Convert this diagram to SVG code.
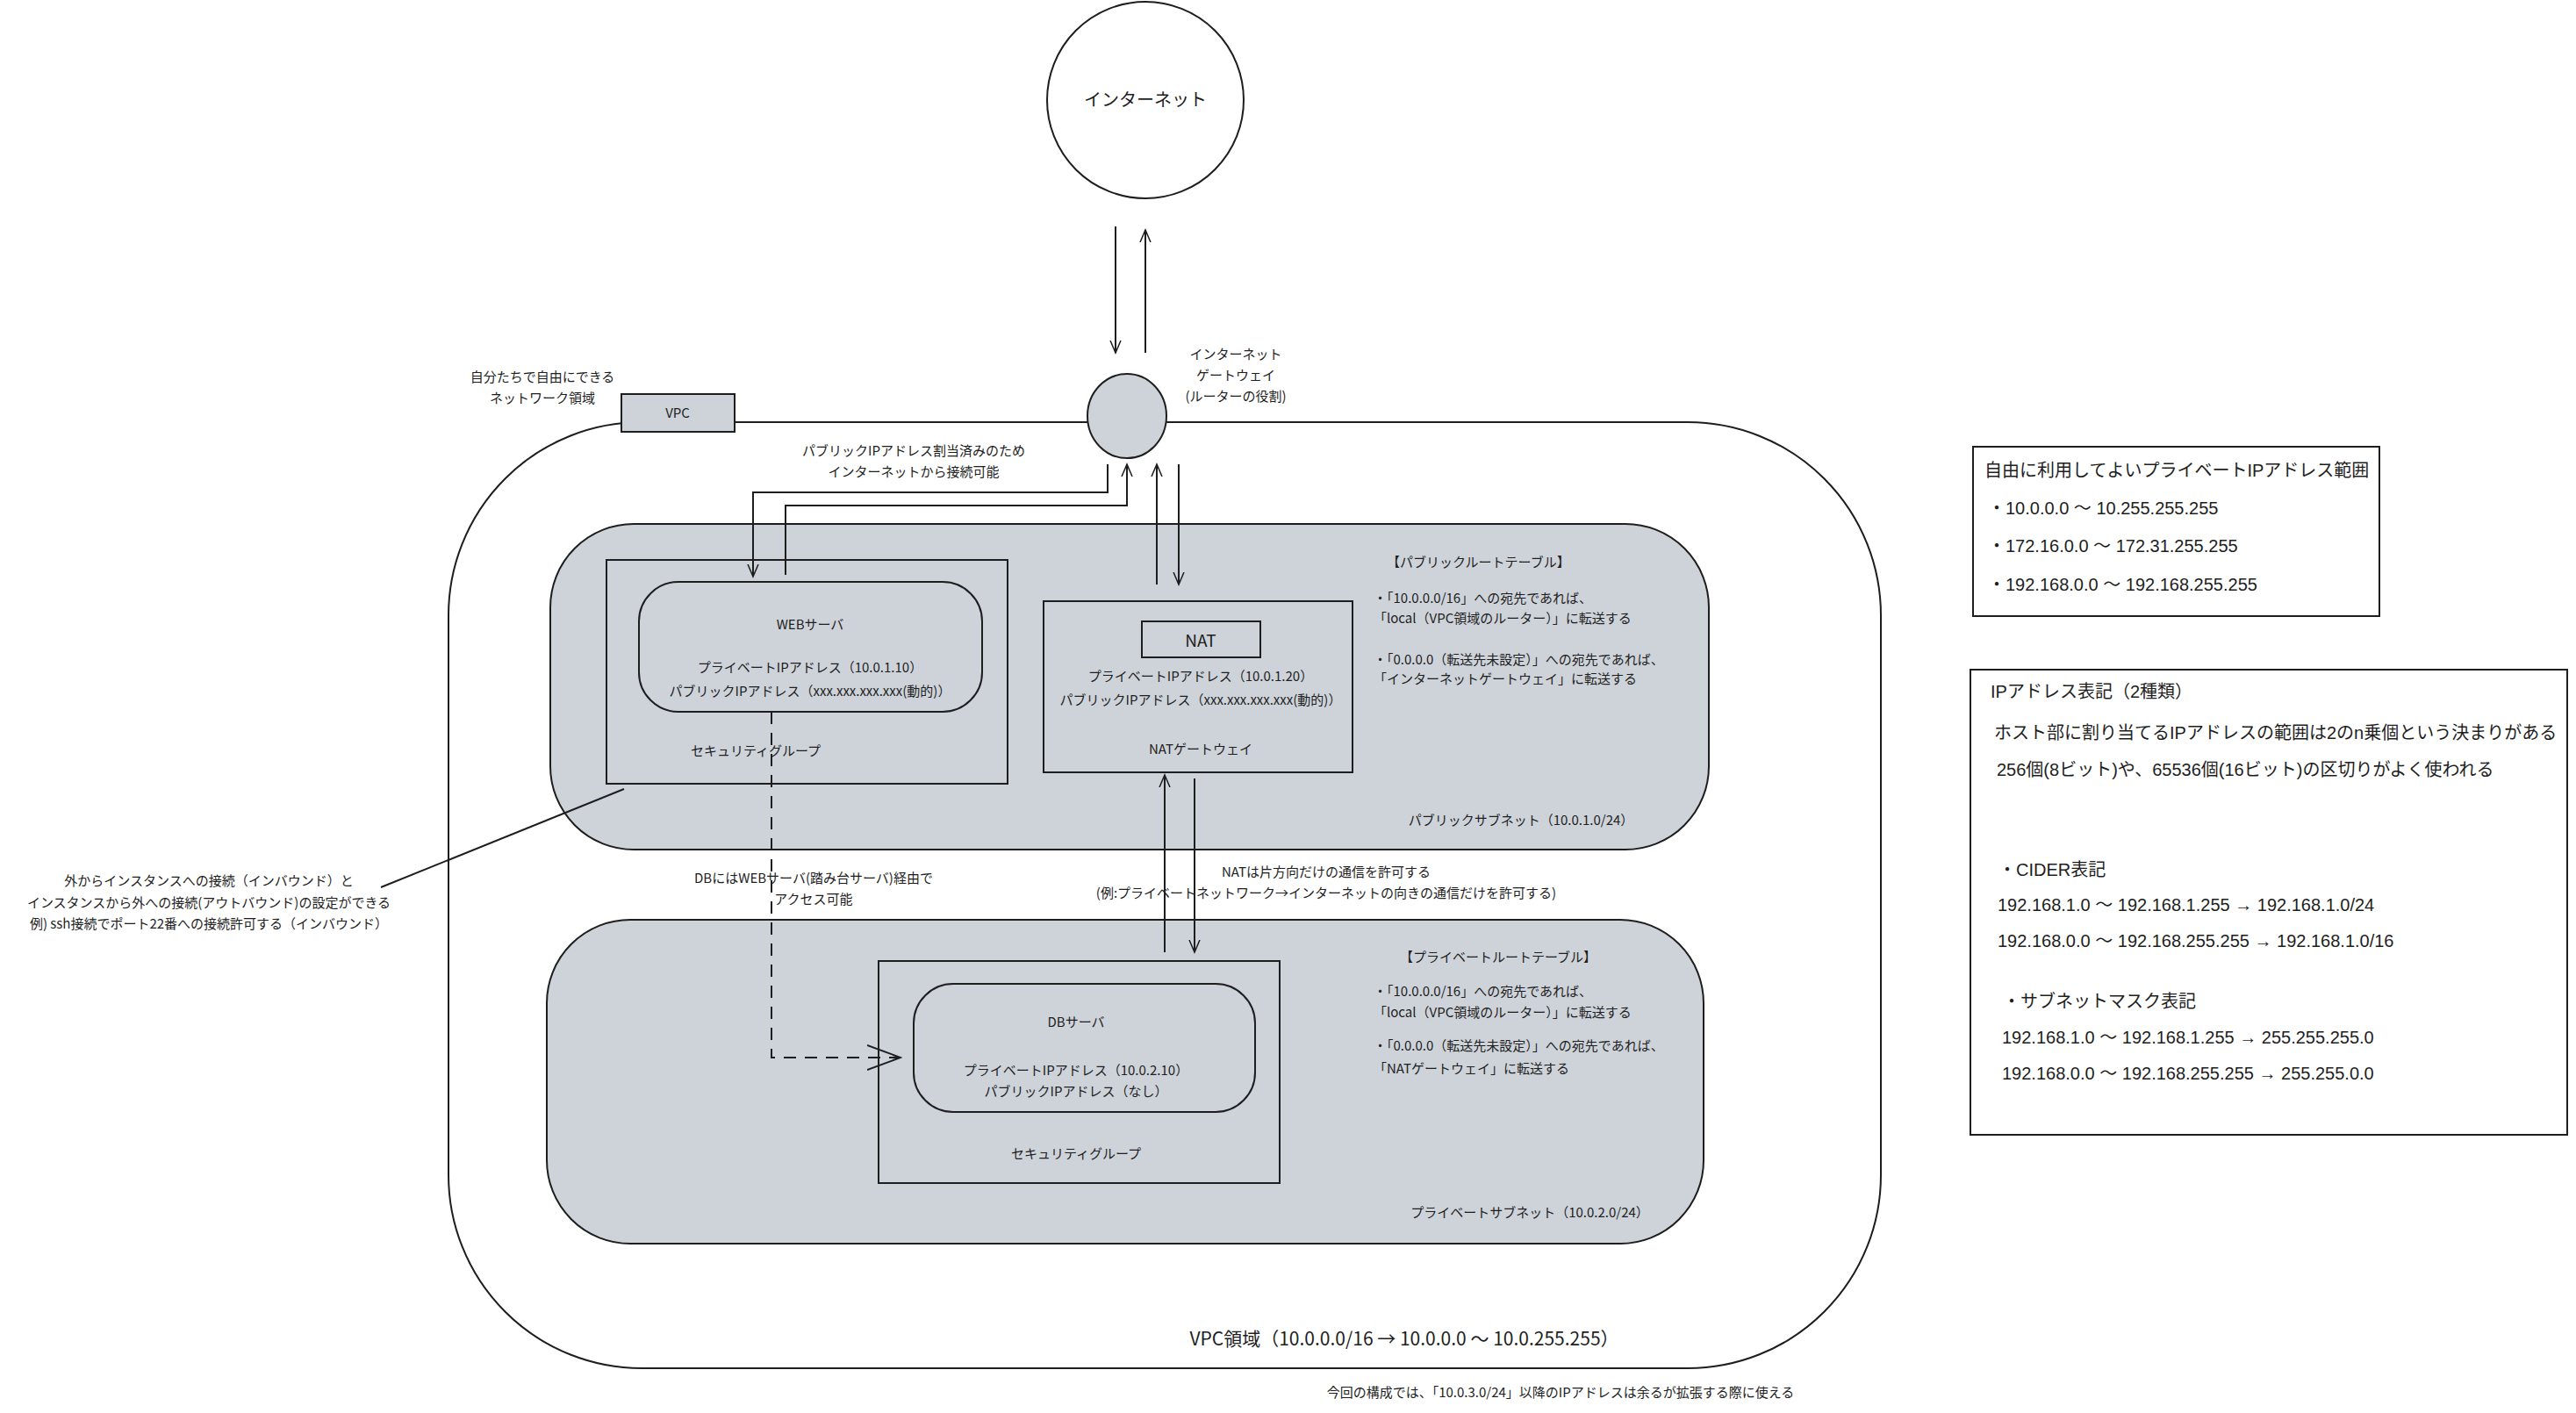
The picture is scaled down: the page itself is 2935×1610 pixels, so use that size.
<svg xmlns="http://www.w3.org/2000/svg" width="2935" height="1610" viewBox="0 0 2935 1610">
<defs>
<style>
.ln{fill:none;stroke:#1e1e1e;stroke-width:2}
.gr{fill:#ced3da;stroke:#1e1e1e;stroke-width:2}
.t{font-family:"Noto Sans CJK JP","Liberation Sans",sans-serif;font-size:15px;fill:#1e1e1e;text-anchor:middle}
.l{text-anchor:start}
.r{font-family:"Liberation Sans","Noto Sans CJK JP",sans-serif;font-size:20px;fill:#1e1e1e}
</style>
<marker id="a" markerWidth="16" markerHeight="16" refX="14" refY="8" orient="auto" markerUnits="userSpaceOnUse"><path d="M0,2 L14,8 L0,14" fill="none" stroke="#1e1e1e" stroke-width="1.5"/></marker>
<marker id="b" markerWidth="40" markerHeight="30" refX="38" refY="15" orient="auto" markerUnits="userSpaceOnUse"><path d="M0,1 L38,15 L0,29" fill="none" stroke="#1e1e1e" stroke-width="2"/></marker>
</defs>
<rect width="2935" height="1610" fill="#fff"/>
<g id="vpc-area"><rect x="511" y="481" width="1632" height="1078" rx="220" class="ln"/>
<text x="1600" y="1533" class="t" style="font-size:21px">VPC領域（10.0.0.0/16 → 10.0.0.0 ～ 10.0.255.255）</text></g>
<g id="internet"><circle cx="1305" cy="114" r="112" class="ln" fill="#fff"/><text x="1305" y="121" class="t" style="font-size:20px">インターネット</text></g>
<g id="igw"><ellipse cx="1284" cy="474" rx="45" ry="48" class="gr"/>
<text x="1408" y="409" class="t">インターネット</text><text x="1408" y="433" class="t">ゲートウェイ</text><text x="1408" y="457" class="t">(ルーターの役割)</text></g>
<g id="vpc"><rect x="708" y="449" width="129" height="43" class="gr"/><text x="772" y="476" class="t">VPC</text>
<text x="618" y="435" class="t">自分たちで自由にできる</text><text x="618" y="459" class="t">ネットワーク領域</text></g>
<g id="public-subnet"><rect x="627" y="597" width="1320" height="371" rx="95" class="gr"/>
<text x="1733" y="940" class="t">パブリックサブネット（10.0.1.0/24）</text>
<text x="1580" y="646" class="t l">【パブリックルートテーブル】</text>
<text x="1565" y="687" class="t l">・「10.0.0.0/16」への宛先であれば、</text>
<text x="1565" y="710" class="t l">「local（VPC領域のルーター）」に転送する</text>
<text x="1565" y="757" class="t l">・「0.0.0.0（転送先未設定）」への宛先であれば、</text>
<text x="1565" y="779" class="t l">「インターネットゲートウェイ」に転送する</text></g>
<g id="private-subnet"><rect x="623" y="1048" width="1318" height="369" rx="95" class="gr"/>
<text x="1743" y="1387" class="t">プライベートサブネット（10.0.2.0/24）</text>
<text x="1595" y="1096" class="t l">【プライベートルートテーブル】</text>
<text x="1565" y="1135" class="t l">・「10.0.0.0/16」への宛先であれば、</text>
<text x="1565" y="1159" class="t l">「local（VPC領域のルーター）」に転送する</text>
<text x="1565" y="1197" class="t l">・「0.0.0.0（転送先未設定）」への宛先であれば、</text>
<text x="1565" y="1223" class="t l">「NATゲートウェイ」に転送する</text></g>
<g id="web-sg"><rect x="691" y="638" width="457" height="255" class="ln"/><text x="861" y="861" class="t">セキュリティグループ</text></g>
<g id="web-server"><rect x="728" y="663" width="391" height="148" rx="45" class="ln"/>
<text x="923" y="717" class="t">WEBサーバ</text><text x="923" y="766" class="t">プライベートIPアドレス（10.0.1.10）</text><text x="923" y="793" class="t">パブリックIPアドレス（xxx.xxx.xxx.xxx(動的)）</text></g>
<g id="nat-gw"><rect x="1189" y="685" width="352" height="195" class="ln"/>
<rect x="1301" y="708" width="135" height="41" class="ln" stroke-width="3"/><text x="1368" y="737" class="t" style="font-size:19px">NAT</text>
<text x="1368" y="776" class="t">プライベートIPアドレス（10.0.1.20）</text><text x="1368" y="803" class="t">パブリックIPアドレス（xxx.xxx.xxx.xxx(動的)）</text><text x="1368" y="859" class="t">NATゲートウェイ</text></g>
<g id="db-sg"><rect x="1001" y="1095" width="457" height="253" class="ln"/><text x="1226" y="1320" class="t">セキュリティグループ</text></g>
<g id="db-server"><rect x="1041" y="1121" width="389" height="146" rx="45" class="ln"/>
<text x="1226" y="1170" class="t">DBサーバ</text><text x="1226" y="1225" class="t">プライベートIPアドレス（10.0.2.10）</text><text x="1226" y="1249" class="t">パブリックIPアドレス（なし）</text></g>
<g id="connectors">
<path d="M1271,258 V402" class="ln" marker-end="url(#a)"/>
<path d="M1305,402 V262" class="ln" marker-end="url(#a)"/>
<path d="M1262,529 V561 H858 V657" class="ln" marker-end="url(#a)"/>
<path d="M895,655 V576 H1284 V529" class="ln" marker-end="url(#a)"/>
<path d="M1318,666 V529" class="ln" marker-end="url(#a)"/>
<path d="M1343,529 V666" class="ln" marker-end="url(#a)"/>
<path d="M1327,1085 V883" class="ln" marker-end="url(#a)"/>
<path d="M1361,887 V1085" class="ln" marker-end="url(#a)"/>
<path d="M879,811 V1205 H1026" class="ln" stroke-dasharray="14 10" marker-end="url(#b)"/>
<path d="M711,899 L434,1011" class="ln"/>
</g>
<g id="labels">
<text x="1041" y="519" class="t">パブリックIPアドレス割当済みのため</text><text x="1041" y="543" class="t">インターネットから接続可能</text>
<text x="1511" y="999" class="t">NATは片方向だけの通信を許可する</text><text x="1511" y="1023" class="t">(例:プライベートネットワーク→インターネットの向きの通信だけを許可する)</text>
<text x="927" y="1006" class="t">DBにはWEBサーバ(踏み台サーバ)経由で</text><text x="927" y="1030" class="t">アクセス可能</text>
<text x="238" y="1009" class="t">外からインスタンスへの接続（インバウンド）と</text><text x="238" y="1034" class="t">インスタンスから外への接続(アウトバウンド)の設定ができる</text><text x="238" y="1058" class="t">例) ssh接続でポート22番への接続許可する（インバウンド）</text>
<text x="1778" y="1592" class="t">今回の構成では、「10.0.3.0/24」以降のIPアドレスは余るが拡張する際に使える</text>
</g>
<g id="private-ranges"><rect x="2248" y="509" width="463" height="193" class="ln"/>
<text x="2261" y="543" class="r">自由に利用してよいプライベートIPアドレス範囲</text>
<text x="2265" y="586" class="r">・10.0.0.0 ～ 10.255.255.255</text>
<text x="2265" y="629" class="r">・172.16.0.0 ～ 172.31.255.255</text>
<text x="2265" y="673" class="r">・192.168.0.0 ～ 192.168.255.255</text></g>
<g id="ip-notation"><rect x="2245" y="763" width="680" height="530" class="ln"/>
<text x="2268" y="795" class="r">IPアドレス表記（2種類）</text>
<text x="2272" y="842" class="r">ホスト部に割り当てるIPアドレスの範囲は2のn乗個という決まりがある</text>
<text x="2275" y="884" class="r">256個(8ビット)や、65536個(16ビット)の区切りがよく使われる</text>
<text x="2277" y="998" class="r">・CIDER表記</text>
<text x="2276" y="1038" class="r">192.168.1.0 ～ 192.168.1.255 → 192.168.1.0/24</text>
<text x="2276" y="1079" class="r">192.168.0.0 ～ 192.168.255.255 → 192.168.1.0/16</text>
<text x="2282" y="1148" class="r">・サブネットマスク表記</text>
<text x="2281" y="1189" class="r">192.168.1.0 ～ 192.168.1.255 → 255.255.255.0</text>
<text x="2281" y="1230" class="r">192.168.0.0 ～ 192.168.255.255 → 255.255.0.0</text></g>
</svg>
